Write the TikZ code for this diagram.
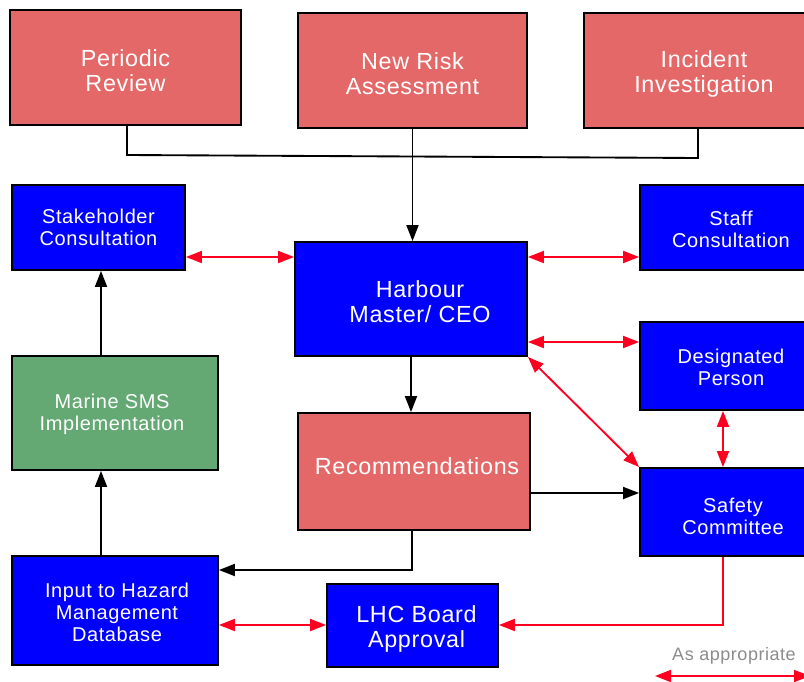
\documentclass[tikz,border=0pt]{standalone}
\usepackage{fontspec}
\setmainfont{Liberation Sans}[LetterSpace=3]
\usetikzlibrary{arrows.meta,calc}
\definecolor{boxred}{RGB}{228,104,104}
\definecolor{boxblue}{RGB}{0,0,255}
\definecolor{boxgreen}{RGB}{100,168,115}
\definecolor{arrred}{RGB}{255,0,32}
\definecolor{legendgray}{RGB}{140,140,140}
\def\pxu{0.75pt}
\tikzset{
  box/.style={draw=black, line width=1.4pt, inner sep=0pt},
  lbl/.style={inner sep=0pt, align=center, text=white},
  bigtext/.style={lbl, font=\fontsize{17.5}{18.75}\selectfont},
  smalltext/.style={lbl, font=\fontsize{15}{16.5}\selectfont},
  redbox/.style={box, fill=boxred},
  bluebox/.style={box, fill=boxblue},
  greenbox/.style={box, fill=boxgreen},
  blkarrow/.style={draw=black, line width=1.4pt, -{Triangle[length=12pt,width=9pt]}},
  blkline/.style={draw=black, line width=1.4pt},
  redone/.style={draw=arrred, line width=1.4pt, -{Triangle[length=12pt,width=9pt]}},
  redboth/.style={draw=arrred, line width=1.4pt, {Triangle[length=12pt,width=9pt]}-{Triangle[length=12pt,width=9pt]}},
}
\begin{document}
\begin{tikzpicture}[x=0.75pt,y=-0.75pt]
\useasboundingbox (0,0) rectangle (804,682);
\fill[white] (0,0) rectangle (804,682);

% boxes
\node[redbox, minimum width=231*\pxu, minimum height=115*\pxu] (pr) at (125.5,67.5) {};
\node[redbox, minimum width=229*\pxu, minimum height=115*\pxu] (nr) at (412.5,70.5) {};
\node[redbox, minimum width=240*\pxu, minimum height=115*\pxu] (ii) at (704,70.5) {};
\node[bluebox, minimum width=173*\pxu, minimum height=85*\pxu] (sc) at (98.5,227.5) {};
\node[bluebox, minimum width=182*\pxu, minimum height=85*\pxu] (stc) at (731,227.5) {};
\node[bluebox, minimum width=232*\pxu, minimum height=114*\pxu] (hm) at (411,299) {};
\node[bluebox, minimum width=182*\pxu, minimum height=88*\pxu] (dp) at (731,366) {};
\node[greenbox, minimum width=206*\pxu, minimum height=114*\pxu] (ms) at (115,413) {};
\node[redbox, minimum width=232*\pxu, minimum height=117*\pxu] (rec) at (414,471.5) {};
\node[bluebox, minimum width=182*\pxu, minimum height=88*\pxu] (sfc) at (731,512) {};
\node[bluebox, minimum width=206*\pxu, minimum height=109*\pxu] (ih) at (115,610.5) {};
\node[bluebox, minimum width=171*\pxu, minimum height=83*\pxu] (lhc) at (412.5,625.5) {};

% texts
\node[bigtext] (prt) at ($(pr.center)+(0,3)$) {Periodic\\Review};
\node[bigtext] (nrt) at ($(nr.center)+(0,3)$) {New Risk\\Assessment};
\node[bigtext] (iit) at ($(ii.center)+(0,3)$) {Incident\\Investigation};
\node[smalltext] (sct) at (sc.center) {Stakeholder\\Consultation};
\node[smalltext] (stct) at ($(stc.center)+(0,2)$) {Staff\\Consultation};
\node[bigtext] (hmt) at ($(hm.center)+(9,3)$) {Harbour\\Master/ CEO};
\node[smalltext] (dpt) at ($(dp.center)+(0,1)$) {Designated\\Person};
\node[smalltext] (mst) at ($(ms.center)+(-3,1)$) {Marine SMS\\Implementation};
\node[bigtext] (rect) at ($(rec.center)+(3,-5)$) {Recommendations};
\node[smalltext] (sfct) at ($(sfc.center)+(2,4)$) {Safety\\Committee};
\node[smalltext] (iht) at ($(ih.center)+(2,2)$) {Input to Hazard\\Management\\Database};
\node[bigtext] (lhct) at ($(lhc.center)+(4,3)$) {LHC Board\\Approval};

% helper coordinates
\coordinate (jl) at (127,155);
\coordinate (jr) at (698,158);
\coordinate (y257) at (0,257);
\coordinate (y342) at (0,342);
\coordinate (y493) at (0,493);
\coordinate (y570) at (0,570);
\coordinate (y625) at (0,625);
\coordinate (x101) at (101,0);
\coordinate (x412) at (412,0);
\coordinate (x723) at (723,0);
\coordinate (la) at (655,676);
\coordinate (lb) at (810,676);

% black connectors
\draw[blkline] (pr.south -| jl) -- (jl) -- (jr) -- (jr |- ii.south);
\draw[blkarrow] (nr.south) -- (nr.south |- hm.north);
\draw[blkarrow] (hm.south) -- (hm.south |- rec.north);
\draw[blkarrow] (rec.east |- y493) -- (sfc.west |- y493);
\draw[blkarrow] (rec.south -| x412) |- (ih.east |- y570);
\draw[blkarrow] (ih.north -| x101) -- (ms.south -| x101);
\draw[blkarrow] (ms.north -| x101) -- (sc.south -| x101);

% red connectors
\draw[redboth] (sc.east |- y257) -- (hm.west |- y257);
\draw[redboth] (hm.east |- y257) -- (stc.west |- y257);
\draw[redboth] (hm.east |- y342) -- (dp.west |- y342);
\draw[redboth] (hm.south east) -- (sfc.north west);
\draw[redboth] (dp.south -| x723) -- (sfc.north -| x723);
\draw[redboth] (ih.east |- y625) -- (lhc.west |- y625);
\draw[redone] (sfc.south -| x723) |- (lhc.east |- y625);

% legend
\draw[redboth] (la) -- (lb);
\node[text=legendgray, font=\fontsize{13.5}{15}\selectfont, inner sep=0pt] (leg) at (734,656) {As appropriate};
\end{tikzpicture}
\end{document}
